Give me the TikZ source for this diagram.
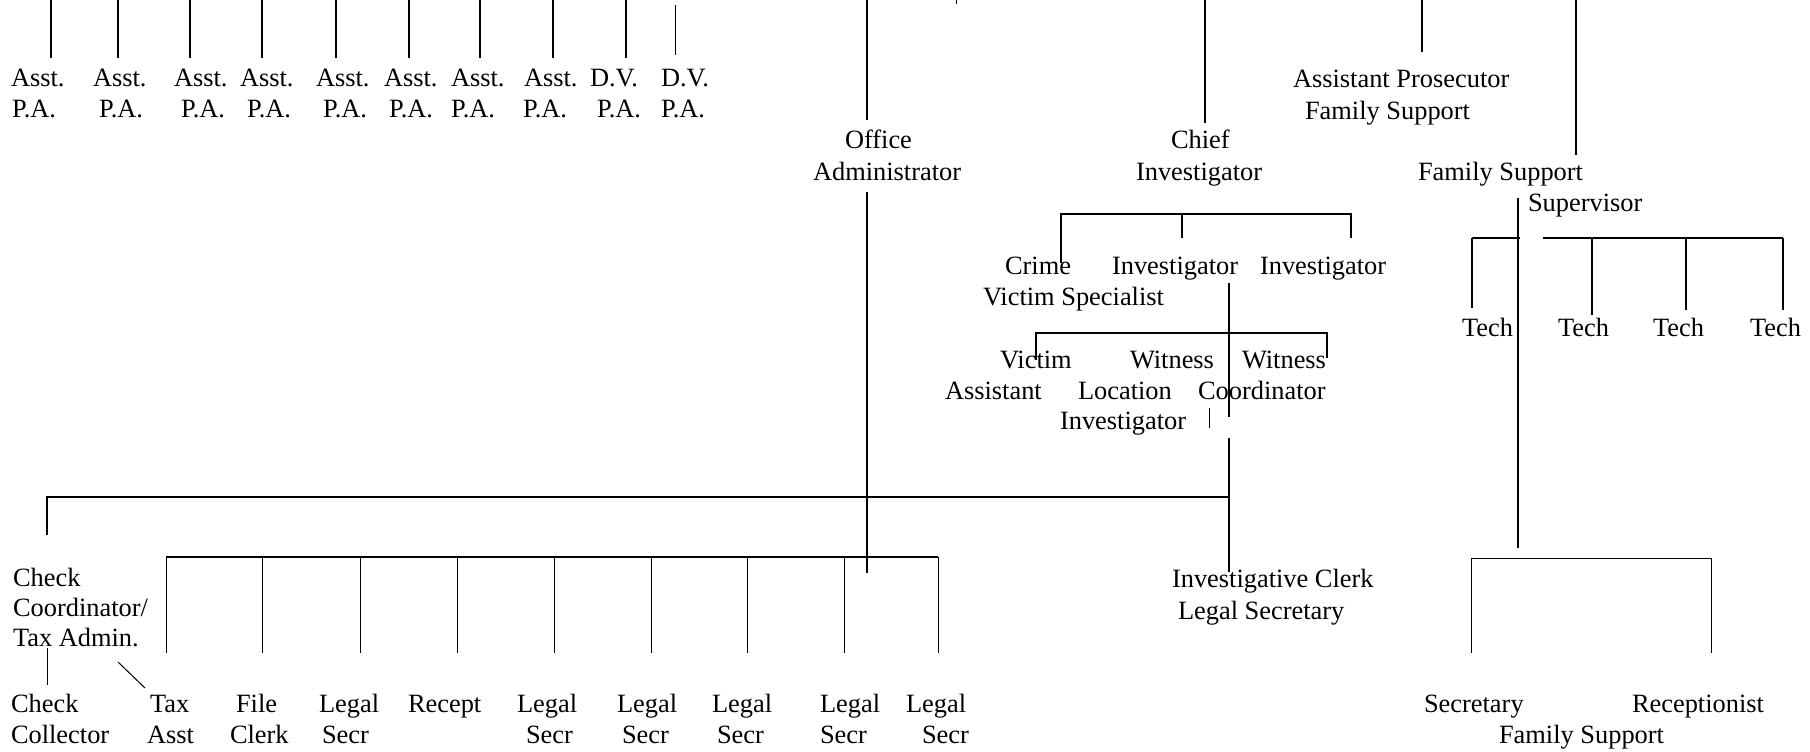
\documentclass[tikz,border=0pt]{standalone}
\usepackage{fontspec}
\setmainfont{Liberation Serif}
\begin{document}
\begin{tikzpicture}[x=0.5pt,y=-0.5pt,
  lbl/.style={anchor=base west,inner sep=0pt,outer sep=0pt,font=\fontsize{13.2}{15.8}\selectfont},
  ln/.style={line width=0.8pt,line cap=butt},
  thin ln/.style={line width=0.5pt}]
\useasboundingbox (0,0) rectangle (1810,751);

% ---------- top row of assistants ----------
\foreach \x/\i in {51/1,118/2,190/3,262/4,336/5,409/6,480/7,553/8,626/9}{
  \coordinate (ta\i) at (\x,0); \coordinate (tb\i) at (\x,58);
  \draw[ln] (ta\i) -- (tb\i);}
\coordinate (ta10) at (675,5); \coordinate (tb10) at (675,55);
\draw[thin ln] (ta10) -- (tb10);

\node[lbl] (as1) at (11,86) {Asst.};  \node[lbl] (pa1) at (12,117) {P.A.};
\node[lbl] (as2) at (93,86) {Asst.};  \node[lbl] (pa2) at (99,117) {P.A.};
\node[lbl] (as3) at (174,86) {Asst.}; \node[lbl] (pa3) at (181,117) {P.A.};
\node[lbl] (as4) at (240,86) {Asst.}; \node[lbl] (pa4) at (247,117) {P.A.};
\node[lbl] (as5) at (316,86) {Asst.}; \node[lbl] (pa5) at (323,117) {P.A.};
\node[lbl] (as6) at (384,86) {Asst.}; \node[lbl] (pa6) at (389,117) {P.A.};
\node[lbl] (as7) at (451,86) {Asst.}; \node[lbl] (pa7) at (451,117) {P.A.};
\node[lbl] (as8) at (524,86) {Asst.}; \node[lbl] (pa8) at (523,117) {P.A.};
\node[lbl] (dv9) at (590,86) {D.V.};  \node[lbl] (pa9) at (597,117) {P.A.};
\node[lbl] (dv10) at (661,86) {D.V.}; \node[lbl] (pa10) at (661,117) {P.A.};

% ---------- Office Administrator ----------
\coordinate (oa0) at (867,0); \coordinate (oa1) at (867,120);
\coordinate (oa2) at (867,192); \coordinate (oa3) at (867,573);
\draw[ln] (oa0) -- (oa1);
\draw[ln] (oa2) -- (oa3);
\node[lbl] (office) at (845,148) {Office};
\node[lbl] (admin) at (813,180) {Administrator};
\coordinate (tk0) at (956,0); \coordinate (tk1) at (956,4);
\draw[thin ln] (tk0) -- (tk1);

% ---------- Chief Investigator ----------
\coordinate (ci0) at (1205,0); \coordinate (ci1) at (1205,123);
\draw[ln] (ci0) -- (ci1);
\node[lbl] (chief) at (1171,148) {Chief};
\node[lbl] (chiefinv) at (1136,180) {Investigator};
\coordinate (cb1) at (1061,214); \coordinate (cb2) at (1182,214); \coordinate (cb3) at (1351,214);
\coordinate (cd1) at (1061,263); \coordinate (cd2) at (1182,238); \coordinate (cd3) at (1351,238);
\draw[ln] (cd1) -- (cb1) -- (cb3) -- (cd3);
\draw[ln] (cb2) -- (cd2);
\node[lbl] (crime) at (1005,274) {Crime};
\node[lbl] (vspec) at (983,305) {Victim Specialist};
\node[lbl] (inv1) at (1112,274) {Investigator};
\node[lbl] (inv2) at (1260,274) {Investigator};

\coordinate (iv0) at (1229,283); \coordinate (iv1) at (1229,417);
\coordinate (iv2) at (1229,438); \coordinate (iv3) at (1229,572);
\draw[ln] (iv0) -- (iv1);
\draw[ln] (iv2) -- (iv3);
\coordinate (vb1) at (1036,333); \coordinate (vb2) at (1327,333);
\coordinate (vd1) at (1036,360); \coordinate (vd2) at (1327,358);
\draw[ln] (vd1) -- (vb1) -- (vb2) -- (vd2);
\node[lbl] (victim) at (1000,368) {Victim};
\node[lbl] (vassist) at (945,399) {Assistant};
\node[lbl] (witness1) at (1130,368) {Witness};
\node[lbl] (location) at (1078,399) {Location};
\node[lbl] (locinv) at (1060,429) {Investigator};
\node[lbl] (witness2) at (1242,368) {Witness};
\node[lbl] (coord) at (1198,399) {Coordinator};
\coordinate (sk0) at (1209,408); \coordinate (sk1) at (1209,428);
\draw[thin ln] (sk0) -- (sk1);

% ---------- long horizontal & Check Coordinator ----------
\coordinate (lh1) at (47,497); \coordinate (lh2) at (1229,497); \coordinate (lh0) at (47,535);
\draw[ln] (lh0) -- (lh1) -- (lh2);
\node[lbl] (chk) at (13,586) {Check};
\node[lbl] (chkco) at (13,616) {Coordinator/};
\node[lbl] (taxad) at (13,646) {Tax Admin.};
\coordinate (cc0) at (47,648); \coordinate (cc1) at (47,685);
\draw[thin ln] (cc0) -- (cc1);
\coordinate (dg0) at (118,662); \coordinate (dg1) at (145,688);
\draw[thin ln] (dg0) -- (dg1);

% ---------- lower bracket ----------
\coordinate (lb1) at (166,557); \coordinate (lb2) at (938,557);
\draw[ln] (lb1) -- (lb2);
\foreach \x/\i in {166/1,262/2,360/3,457/4,554/5,651/6,747/7,844/8,938/9}{
  \coordinate (lu\i) at (\x,557); \coordinate (ld\i) at (\x,653);
  \draw[thin ln] (lu\i) -- (ld\i);}

\node[lbl] (chk2) at (11,712) {Check};     \node[lbl] (coll) at (11,743) {Collector};
\node[lbl] (tax) at (150,712) {Tax};       \node[lbl] (taxasst) at (147,743) {Asst};
\node[lbl] (file) at (236,712) {File};     \node[lbl] (clerk) at (230,743) {Clerk};
\node[lbl] (lg1) at (319,712) {Legal};     \node[lbl] (sc1) at (322,743) {Secr};
\node[lbl] (recept) at (408,712) {Recept};
\node[lbl] (lg2) at (517,712) {Legal};     \node[lbl] (sc2) at (526,743) {Secr};
\node[lbl] (lg3) at (617,712) {Legal};     \node[lbl] (sc3) at (622,743) {Secr};
\node[lbl] (lg4) at (712,712) {Legal};     \node[lbl] (sc4) at (717,743) {Secr};
\node[lbl] (lg5) at (820,712) {Legal};     \node[lbl] (sc5) at (820,743) {Secr};
\node[lbl] (lg6) at (906,712) {Legal};     \node[lbl] (sc6) at (922,743) {Secr};

% ---------- Investigative Clerk ----------
\node[lbl] (invclerk) at (1172,587) {Investigative Clerk};
\node[lbl] (legsec) at (1178,619) {Legal Secretary};

% ---------- Assistant Prosecutor Family Support ----------
\coordinate (ap0) at (1422,0); \coordinate (ap1) at (1422,52);
\draw[ln] (ap0) -- (ap1);
\node[lbl] (asstpros) at (1293,87) {Assistant Prosecutor};
\node[lbl] (apfs) at (1305,119) {Family Support};

% ---------- Family Support Supervisor ----------
\coordinate (fs0) at (1576,0); \coordinate (fs1) at (1576,155);
\draw[ln] (fs0) -- (fs1);
\node[lbl] (fssup) at (1418,180) {Family Support};
\node[lbl] (superv) at (1528,211) {Supervisor};
\coordinate (sv0) at (1518,198); \coordinate (sv1) at (1518,548);
\draw[ln] (sv0) -- (sv1);

\coordinate (tl1) at (1472,238); \coordinate (tl2) at (1520,238);
\coordinate (tr1) at (1543,238); \coordinate (tr2) at (1783,238);
\draw[ln] (tl1) -- (tl2);
\draw[ln] (tr1) -- (tr2);
\coordinate (td1) at (1472,308); \coordinate (tu2) at (1592,238); \coordinate (td2) at (1592,315);
\coordinate (tu3) at (1686,238); \coordinate (td3) at (1686,310); \coordinate (td4) at (1783,310);
\draw[ln] (tl1) -- (td1);
\draw[ln] (tu2) -- (td2);
\draw[ln] (tu3) -- (td3);
\draw[ln] (tr2) -- (td4);
\node[lbl] (tech1) at (1462,336) {Tech};
\node[lbl] (tech2) at (1558,336) {Tech};
\node[lbl] (tech3) at (1653,336) {Tech};
\node[lbl] (tech4) at (1750,336) {Tech};

\coordinate (rb1) at (1471,558); \coordinate (rb2) at (1711,558);
\coordinate (rd1) at (1471,653); \coordinate (rd2) at (1711,653);
\draw[thin ln] (rd1) -- (rb1) -- (rb2) -- (rd2);
\node[lbl] (secr) at (1424,712) {Secretary};
\node[lbl] (recep) at (1632,712) {Receptionist};
\node[lbl] (fsbot) at (1499,743) {Family Support};
\end{tikzpicture}
\end{document}
